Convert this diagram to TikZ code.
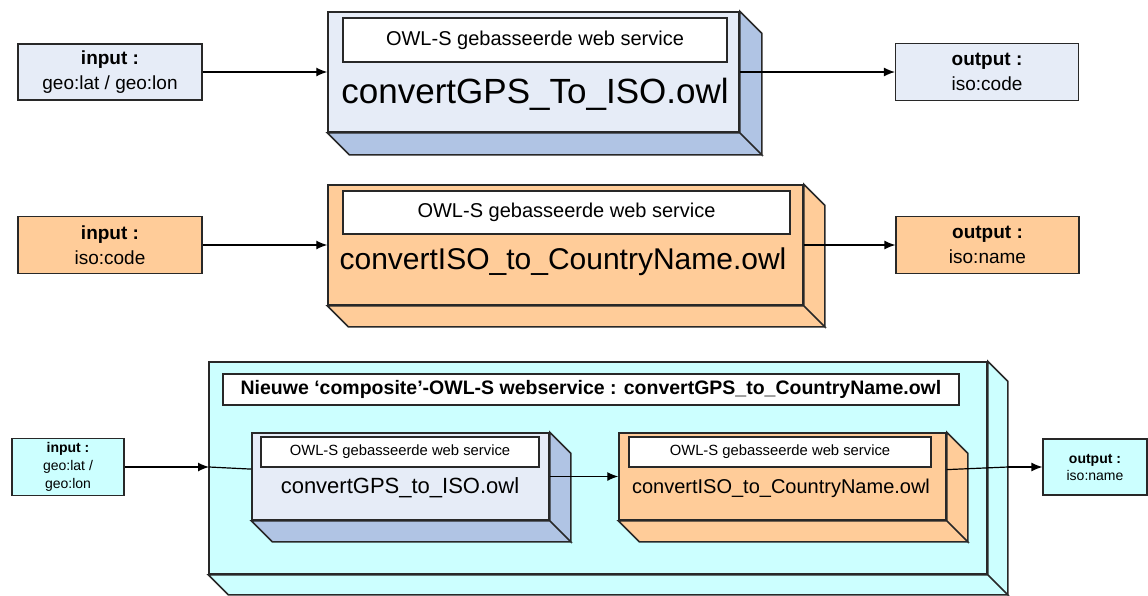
\documentclass[tikz,border=0pt]{standalone}
\usepackage{fontspec}
\setmainfont{Liberation Sans}
\usetikzlibrary{arrows.meta}

\definecolor{bluefront}{RGB}{230,236,247}
\definecolor{blueside}{RGB}{176,196,228}
\definecolor{orangebox}{RGB}{255,204,153}
\definecolor{cyanbox}{RGB}{204,255,255}
\definecolor{edgegray}{RGB}{40,40,40}

\begin{document}
\begin{tikzpicture}[x=1pt, y=-1pt,
		box/.style={draw=edgegray, line width=1.5pt, inner sep=0pt},
		iobox/.style={box, line width=1.2pt, align=center},
		titlebox/.style={box, line width=1.2pt, fill=white},
		conn/.style={draw=black, line width=1.2pt},
		arr/.style={conn, -{Latex[length=11pt, width=9pt]}}]
		\useasboundingbox (0, 0) rectangle (1148, 595);

		% first service
		\node [iobox, fill=bluefront, minimum width=184, minimum height=56, font=\fontsize{19}{25}\selectfont] (in1) at (110, 72) {\textbf{input :}\\geo:lat / geo:lon};
		\node [box, fill=bluefront, minimum width=411, minimum height=120] (m1) at (533.5, 72) {};
		\draw [box, fill=blueside] (m1.north east) -- ([shift={(22,22)}]m1.north east) -- ([shift={(22,22)}]m1.south east) -- (m1.south east) -- cycle
			(m1.south west) -- ([shift={(22,22)}]m1.south west) -- ([shift={(22,22)}]m1.south east) -- (m1.south east) -- cycle;
		\node [titlebox, minimum width=384, minimum height=44, font=\fontsize{20}{24}\selectfont] (t1) at (535, 40) {OWL-S gebasseerde web service};
		\node [font=\fontsize{35}{40}\selectfont] (n1) at (535, 94) {convertGPS\_To\_ISO.owl};
		\node [iobox, fill=bluefront, minimum width=183, minimum height=57, font=\fontsize{19}{25}\selectfont] (out1) at (987, 72) {\textbf{output :}\\iso:code};
		\draw [arr] (in1) -- (m1);
		\draw [arr] (m1) -- (out1);

		% second service
		\node [iobox, fill=orangebox, minimum width=184, minimum height=57, font=\fontsize{19}{25}\selectfont] (in2) at (110, 245) {\textbf{input :}\\iso:code};
		\node [box, fill=orangebox, minimum width=475, minimum height=120] (m2) at (565.5, 245) {};
		\draw [box, fill=orangebox] (m2.north east) -- ([shift={(21,21)}]m2.north east) -- ([shift={(21,21)}]m2.south east) -- (m2.south east) -- cycle
			(m2.south west) -- ([shift={(21,21)}]m2.south west) -- ([shift={(21,21)}]m2.south east) -- (m2.south east) -- cycle;
		\node [titlebox, minimum width=447, minimum height=43, font=\fontsize{20}{24}\selectfont] (t2) at (566.5, 212.5) {OWL-S gebasseerde web service};
		\node [font=\fontsize{30}{36}\selectfont] (n2) at (563, 262) {convertISO\_to\_CountryName.owl};
		\node [iobox, fill=orangebox, minimum width=183, minimum height=57, font=\fontsize{19}{25}\selectfont] (out2) at (987.5, 245) {\textbf{output :}\\iso:name};
		\draw [arr] (in2) -- (m2);
		\draw [arr] (m2) -- (out2);

		% composite service
		\node [iobox, fill=cyanbox, minimum width=112, minimum height=57, font=\fontsize{14}{18}\selectfont] (in3) at (68, 467) {\textbf{input :}\\geo:lat /\\geo:lon};
		\node [box, fill=cyanbox, minimum width=778, minimum height=212] (comp) at (598, 468) {};
		\draw [box, fill=cyanbox] (comp.north east) -- ([shift={(20,20)}]comp.north east) -- ([shift={(20,20)}]comp.south east) -- (comp.south east) -- cycle
			(comp.south west) -- ([shift={(20,20)}]comp.south west) -- ([shift={(20,20)}]comp.south east) -- (comp.south east) -- cycle;
		\node [titlebox, minimum width=736, minimum height=31, font=\bfseries\fontsize{19.5}{22}\selectfont] (ct) at (591, 389.5) {Nieuwe ‘composite’-OWL-S webservice : convertGPS\_to\_CountryName.owl};

		\node [box, fill=bluefront, minimum width=297, minimum height=87] (gps) at (400.5, 476.5) {};
		\draw [box, fill=blueside] (gps.north east) -- ([shift={(21,21)}]gps.north east) -- ([shift={(21,21)}]gps.south east) -- (gps.south east) -- cycle
			(gps.south west) -- ([shift={(21,21)}]gps.south west) -- ([shift={(21,21)}]gps.south east) -- (gps.south east) -- cycle;
		\node [titlebox, minimum width=278, minimum height=30, font=\fontsize{14.8}{18}\selectfont] (gt) at (400, 452) {OWL-S gebasseerde web service};
		\node [font=\fontsize{22}{26}\selectfont] (gn) at (400, 488) {convertGPS\_to\_ISO.owl};

		\node [box, fill=orangebox, minimum width=327, minimum height=87] (iso) at (782.5, 476.5) {};
		\draw [box, fill=orangebox] (iso.north east) -- ([shift={(21,21)}]iso.north east) -- ([shift={(21,21)}]iso.south east) -- (iso.south east) -- cycle
			(iso.south west) -- ([shift={(21,21)}]iso.south west) -- ([shift={(21,21)}]iso.south east) -- (iso.south east) -- cycle;
		\node [titlebox, minimum width=302, minimum height=30, font=\fontsize{14.8}{18}\selectfont] (it) at (780, 452) {OWL-S gebasseerde web service};
		\node [font=\fontsize{20}{24}\selectfont] (isn) at (781, 488) {convertISO\_to\_CountryName.owl};

		\node [iobox, fill=cyanbox, minimum width=104, minimum height=56, font=\fontsize{14}{17}\selectfont] (out3) at (1095, 467) {\textbf{output :}\\iso:name};
		\coordinate (cin) at (209, 467);
		\coordinate (cout) at (1008, 467);
		\draw [arr] (in3) -- (cin);
		\draw [conn] (cin) -- (gps);
		\draw [arr] (gps) -- (iso);
		\draw [conn] (iso) -- (cout);
		\draw [arr] (cout) -- (out3);
	\end{tikzpicture}
\end{document}
